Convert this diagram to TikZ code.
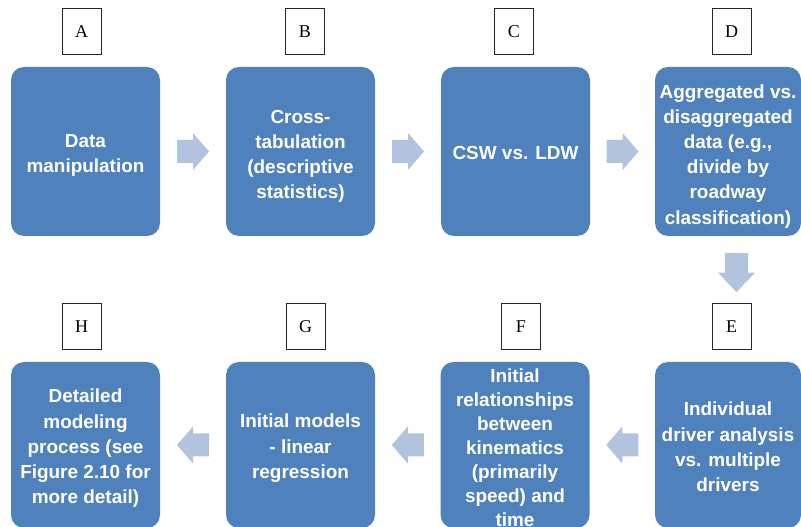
\documentclass[tikz,border=0pt]{standalone}
\usepackage{fontspec}
\setmainfont{Liberation Sans}
\newfontfamily\labelfont{Liberation Serif}
\usetikzlibrary{calc}
\definecolor{stepblue}{HTML}{4F81BD}
\definecolor{arrowblue}{HTML}{B2C3DE}
\tikzset{
  stepbox/.style={fill=stepblue, rounded corners=9.75pt,
    minimum width=111.75pt, minimum height=126.75pt, inner sep=0pt},
  lowbox/.style={stepbox, minimum height=124.5pt},
  steptext/.style={text=white, align=center, inner sep=0pt,
    font=\fontsize{14.2pt}{18.9pt}\selectfont\bfseries},
  tightsteptext/.style={steptext, font=\fontsize{14.2pt}{18pt}\selectfont\bfseries},
  tagbox/.style={draw=black!85, line width=0.75pt, fill=white,
    font=\labelfont\fontsize{13.5pt}{16pt}\selectfont,
    minimum width=29.25pt, minimum height=34.5pt, inner sep=0pt},
  blockarrow/.pic={
    \fill[arrowblue] (-16,-11.5) -- (0,-11.5) -- (0,-18.5) -- (16,0)
      -- (0,18.5) -- (0,11.5) -- (-16,11.5) -- cycle;
  }
}
\begin{document}
\begin{tikzpicture}[x=0.75pt, y=-0.75pt]
\useasboundingbox (0,0) rectangle (801,527);

% top row of steps
\node[stepbox, label={[steptext, yshift=-3pt]center:Data\\manipulation}] (A) at (85.5,151.5) {};
\node[stepbox, label={[steptext, yshift=-3.5pt]center:Cross-\\tabulation\\(descriptive\\statistics)}] (B) at (300.5,151.5) {};
\node[stepbox, label={[steptext, yshift=-1pt]center:CSW vs. LDW}] (C) at (515.5,151.5) {};
\node[stepbox, minimum width=109.5pt,
  label={[steptext, yshift=-3.5pt]center:Aggregated vs.\\disaggregated\\data (e.g.,\\divide by\\roadway\\classification)}] (D) at (728,151.5) {};

% bottom row of steps
\node[lowbox, label={[steptext, yshift=-2.5pt]center:Detailed\\modeling\\process (see\\Figure 2.10 for\\more detail)}] (H) at (85.5,445) {};
\node[lowbox, label={[steptext, yshift=-2.5pt]center:Initial models\\- linear\\regression}] (G) at (300.5,445) {};
\node[lowbox, label={[tightsteptext, yshift=-2pt]center:Initial\\relationships\\between\\kinematics\\(primarily\\speed) and\\time}] (F) at (515,445) {};
\node[lowbox, minimum width=109.5pt,
  label={[steptext, yshift=-1.5pt]center:Individual\\driver analysis\\vs. multiple\\drivers}] (E) at (728,445) {};

% step letters
\node[tagbox] (tA) at (81.5,32) {A};
\node[tagbox] (tB) at (305,32) {B};
\node[tagbox] (tC) at (514,32) {C};
\node[tagbox] (tD) at (731.5,32) {D};
\node[tagbox] (tH) at (81.5,327) {H};
\node[tagbox] (tG) at (305.5,327) {G};
\node[tagbox] (tF) at (521,327) {F};
\node[tagbox] (tE) at (731.5,327) {E};

% block arrows between steps
\pic at ($(A.east)!0.5!(B.west)$) {blockarrow};
\pic at ($(B.east)!0.5!(C.west)$) {blockarrow};
\pic at ($(C.east)!0.5!(D.west)$) {blockarrow};
\pic[rotate=-90, xscale=1.22] at ($(D.south)!0.29!(E.north)+(8.5,0)$) {blockarrow};
\pic[rotate=180] at ($(E.west)!0.5!(F.east)$) {blockarrow};
\pic[rotate=180] at ($(F.west)!0.5!(G.east)$) {blockarrow};
\pic[rotate=180] at ($(G.west)!0.5!(H.east)$) {blockarrow};
\end{tikzpicture}
\end{document}
